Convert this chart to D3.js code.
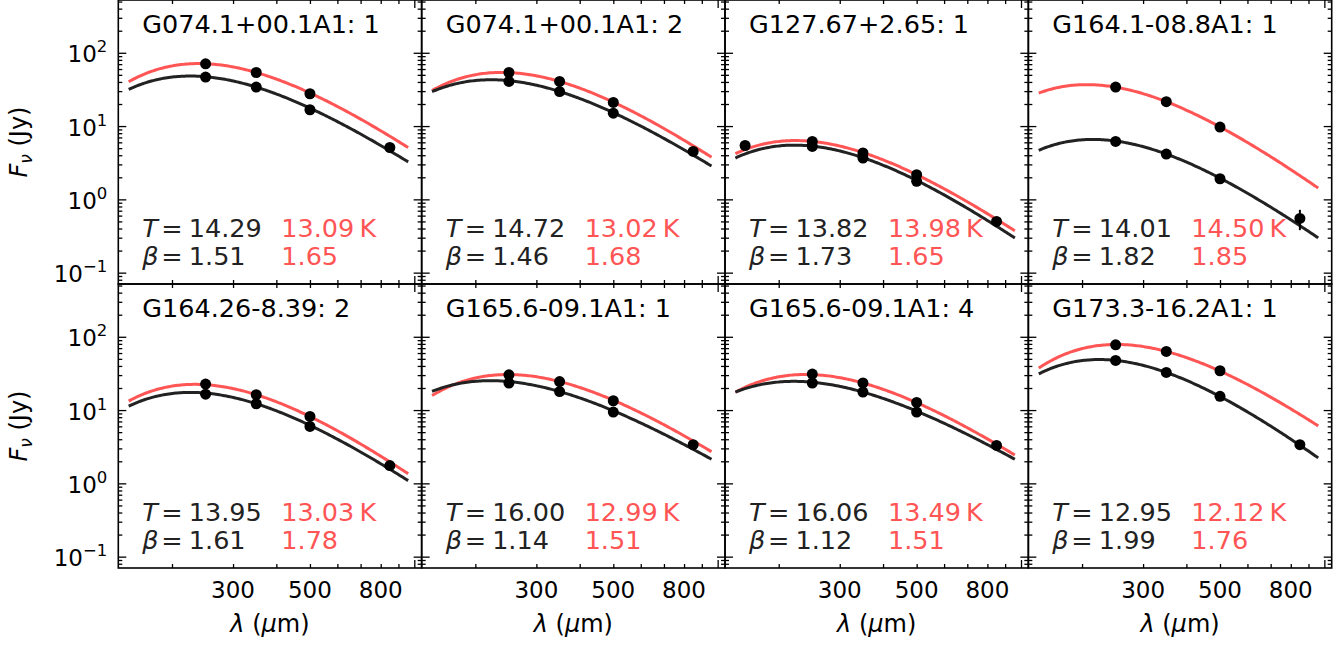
<!DOCTYPE html>
<html>
<head>
<meta charset="utf-8">
<script src="https://cdn.jsdelivr.net/npm/d3@7"></script>
<style>
  body { margin: 0; background: #fff; }
  svg { display: block; font-family: "DejaVu Sans", sans-serif; }
</style>
</head>
<body>
<svg id="chart" width="1344" height="645"></svg>
<script>
// Source names, one panel each (row-major, 2 x 4)
const sources = ["G074.1+00.1A1: 1", "G074.1+00.1A1: 2", "G127.67+2.65: 1", "G164.1-08.8A1: 1",
                 "G164.26-8.39: 2", "G165.6-09.1A1: 1", "G165.6-09.1A1: 4", "G173.3-16.2A1: 1"];

// Photometry bands (µm) shared by both flux sets
const bands = [250, 350, 500];

// Flux densities (Jy) at 250/350/500 µm
const fluxBlack = [[46.6, 34.0, 16.7], [40.6, 29.6, 15.0], [5.27, 3.66, 1.76], [6.17, 4.15, 1.91],
                   [16.5, 12.2, 5.98], [23.4, 17.9, 9.4], [23.4, 17.6, 9.4], [47.5, 32.6, 15.4]];
const fluxRed   = [[70.8, 53.8, 27.6], [53.8, 40.6, 21.0], [6.17, 4.29, 2.17], [34.0, 21.5, 9.7],
                   [22.6, 16.2, 8.18], [30.3, 24.5, 13.4], [31.0, 23.4, 12.7], [77.8, 63.1, 34.4]];

// Extra points: 160 µm (where available) and 850 µm with its uncertainty
const flux160 = [null, null, 5.43, null, null, null, null, null];
const flux850 = [5.1, 4.5, 0.50, 0.55, 1.75, 3.37, 3.29, 3.37];
const err850  = [0, 0, 0, 0.17, 0, 0, 0, 0];

// Modified-blackbody fit parameters
const tempBlack = [14.29, 14.72, 13.82, 14.01, 13.95, 16.00, 16.06, 12.95];
const betaBlack = [1.51, 1.46, 1.73, 1.82, 1.61, 1.14, 1.12, 1.99];
const tempRed   = [13.09, 13.02, 13.98, 14.50, 13.03, 12.99, 13.49, 12.12];
const betaRed   = [1.65, 1.68, 1.65, 1.85, 1.78, 1.51, 1.51, 1.76];
// Fitted flux density at 350 µm (Jy), sets the curve normalisation
const fit350Black = [34.0, 29.6, 3.70, 4.15, 12.2, 17.9, 17.6, 32.6];
const fit350Red   = [53.8, 40.6, 4.35, 21.5, 16.2, 24.5, 23.4, 63.1];

// Axis ticks
const xTickLabels = [300, 500, 800];
const xMinorTicks = [200, 300, 400, 500, 600, 700, 800, 900];
const xMajorTicks = [1000];
const yMajorTicks = [0.1, 1, 10, 100];
const yTickExp = ["\u22121", "0", "1", "2"];

const RED = "#ff5555";
const DARK = "#222222";

// Greybody: S = S350 * (nu/nu350)^(3+beta) * (exp(h nu350/kT)-1)/(exp(h nu/kT)-1)
const HK = 0.0479924;      // h/k in K per GHz
const C_UM_GHZ = 299792.458;
function greybody(lam, T, beta, s350) {
  const nu = C_UM_GHZ / lam, nu0 = C_UM_GHZ / 350;
  return s350 * Math.pow(nu / nu0, 3 + beta) * Math.expm1(HK * nu0 / T) / Math.expm1(HK * nu / T);
}
const curveLam = d3.range(0, 161).map(i => 150 * Math.pow(960 / 150, i / 160));

// Layout
const left0 = 118.3, panelW = 303.35, panelH = 284;
const svg = d3.select("#chart");

const x = d3.scaleLog().domain([140, 1050]).range([0, panelW]);
const y = d3.scaleLog().domain([0.07, 525]).range([panelH, 0]);

const yMinor = [];
[-2, -1, 0, 1, 2].forEach(e => { for (let m = 2; m <= 9; m++) { const v = m * Math.pow(10, e); if (v > 0.07 && v < 525) yMinor.push(v); } });

const line = d3.line().x(d => x(d[0])).y(d => y(d[1]));

sources.forEach((name, i) => {
  const col = i % 4, row = Math.floor(i / 4);
  const g = svg.append("g").attr("transform", `translate(${left0 + col * panelW},${row * panelH})`);

  // ticks, pointing inwards on all four sides
  const tickStyle = sel => sel.call(s => s.select(".domain").remove())
    .selectAll(".tick line").attr("stroke", "#000").attr("stroke-width", 1.3);
  g.append("g").attr("transform", `translate(0,${panelH})`)
    .call(d3.axisBottom(x).tickValues(xMinorTicks).tickSize(-4).tickFormat("")).call(tickStyle);
  g.append("g").attr("transform", `translate(0,${panelH})`)
    .call(d3.axisBottom(x).tickValues(xMajorTicks).tickSize(-8).tickFormat("")).call(tickStyle);
  g.append("g")
    .call(d3.axisTop(x).tickValues(xMinorTicks).tickSize(-4).tickFormat("")).call(tickStyle);
  g.append("g")
    .call(d3.axisTop(x).tickValues(xMajorTicks).tickSize(-8).tickFormat("")).call(tickStyle);
  g.append("g").call(d3.axisLeft(y).tickValues(yMinor).tickSize(-4).tickFormat("")).call(tickStyle);
  g.append("g").call(d3.axisLeft(y).tickValues(yMajorTicks).tickSize(-8).tickFormat("")).call(tickStyle);
  g.append("g").attr("transform", `translate(${panelW},0)`)
    .call(d3.axisRight(y).tickValues(yMinor).tickSize(-4).tickFormat("")).call(tickStyle);
  g.append("g").attr("transform", `translate(${panelW},0)`)
    .call(d3.axisRight(y).tickValues(yMajorTicks).tickSize(-8).tickFormat("")).call(tickStyle);

  // fitted curves
  const redCurve = curveLam.map(l => [l, greybody(l, tempRed[i], betaRed[i], fit350Red[i])]);
  const blackCurve = curveLam.map(l => [l, greybody(l, tempBlack[i], betaBlack[i], fit350Black[i])]);
  g.append("path").attr("d", line(redCurve)).attr("fill", "none").attr("stroke", RED).attr("stroke-width", 3);
  g.append("path").attr("d", line(blackCurve)).attr("fill", "none").attr("stroke", DARK).attr("stroke-width", 3);

  // measured points
  const pts = [];
  bands.forEach((b, k) => { pts.push([b, fluxRed[i][k]]); pts.push([b, fluxBlack[i][k]]); });
  if (flux160[i] !== null) pts.push([160, flux160[i]]);
  pts.push([850, flux850[i]]);
  if (err850[i] > 0) {
    g.append("line").attr("x1", x(850)).attr("x2", x(850))
      .attr("y1", y(flux850[i] - err850[i])).attr("y2", y(flux850[i] + err850[i]))
      .attr("stroke", "#000").attr("stroke-width", 2);
  }
  g.selectAll("circle.pt").data(pts).join("circle").attr("class", "pt")
    .attr("cx", d => x(d[0])).attr("cy", d => y(d[1])).attr("r", 5.5).attr("fill", "#000");

  // frame
  g.append("rect").attr("width", panelW).attr("height", panelH)
    .attr("fill", "none").attr("stroke", "#000").attr("stroke-width", 1.6);

  // source name
  g.append("text").attr("x", 24).attr("y", 33).attr("font-size", 25.5).attr("fill", "#000").text(name);

  // fit results
  const stat = (yy, sym, vb, vr, unit) => {
    g.append("text").attr("x", 24).attr("y", yy).attr("font-size", 25.5).attr("font-style", "italic").attr("fill", DARK).text(sym);
    g.append("text").attr("x", 43).attr("y", yy).attr("font-size", 25.5).attr("fill", DARK).text("=");
    g.append("text").attr("x", 70.5).attr("y", yy).attr("font-size", 25.5).attr("fill", DARK).text(vb);
    g.append("text").attr("x", 163).attr("y", yy).attr("font-size", 25.5).attr("fill", RED).text(vr + unit);
  };
  stat(237, "T", tempBlack[i].toFixed(2), tempRed[i].toFixed(2), "\u2009K");
  stat(265, "\u03b2", betaBlack[i].toFixed(2), betaRed[i].toFixed(2), "");

  // y tick labels on the left column
  if (col === 0) {
    yMajorTicks.forEach((v, k) => {
      const t = g.append("text").attr("x", -11).attr("y", y(v) + 9.5).attr("text-anchor", "end")
        .attr("font-size", 23).attr("fill", "#000");
      t.append("tspan").text("10");
      t.append("tspan").attr("dy", -10).attr("font-size", 16.5).text(yTickExp[k]);
    });
    g.append("text")
      .attr("transform", `translate(${27 - left0},${panelH / 2}) rotate(-90)`)
      .attr("text-anchor", "middle").attr("font-size", 24).attr("fill", "#000")
      .call(t => {
        t.append("tspan").attr("font-style", "italic").text("F");
        t.append("tspan").attr("font-style", "italic").attr("font-size", 17).attr("dy", 5).text("\u03bd");
        t.append("tspan").attr("dy", -5).text(" (Jy)");
      });
  }

  // x tick labels and axis title on the bottom row
  if (row === 1) {
    xTickLabels.forEach(v => {
      g.append("text").attr("x", x(v)).attr("y", panelH + 30).attr("text-anchor", "middle")
        .attr("font-size", 23).attr("fill", "#000").text(v);
    });
    g.append("text").attr("x", panelW / 2).attr("y", panelH + 64).attr("text-anchor", "middle")
      .attr("font-size", 24).attr("fill", "#000")
      .call(t => {
        t.append("tspan").attr("font-style", "italic").text("\u03bb");
        t.append("tspan").text(" (");
        t.append("tspan").attr("font-style", "italic").text("\u03bc");
        t.append("tspan").text("m)");
      });
  }
});
</script>
</body>
</html>
